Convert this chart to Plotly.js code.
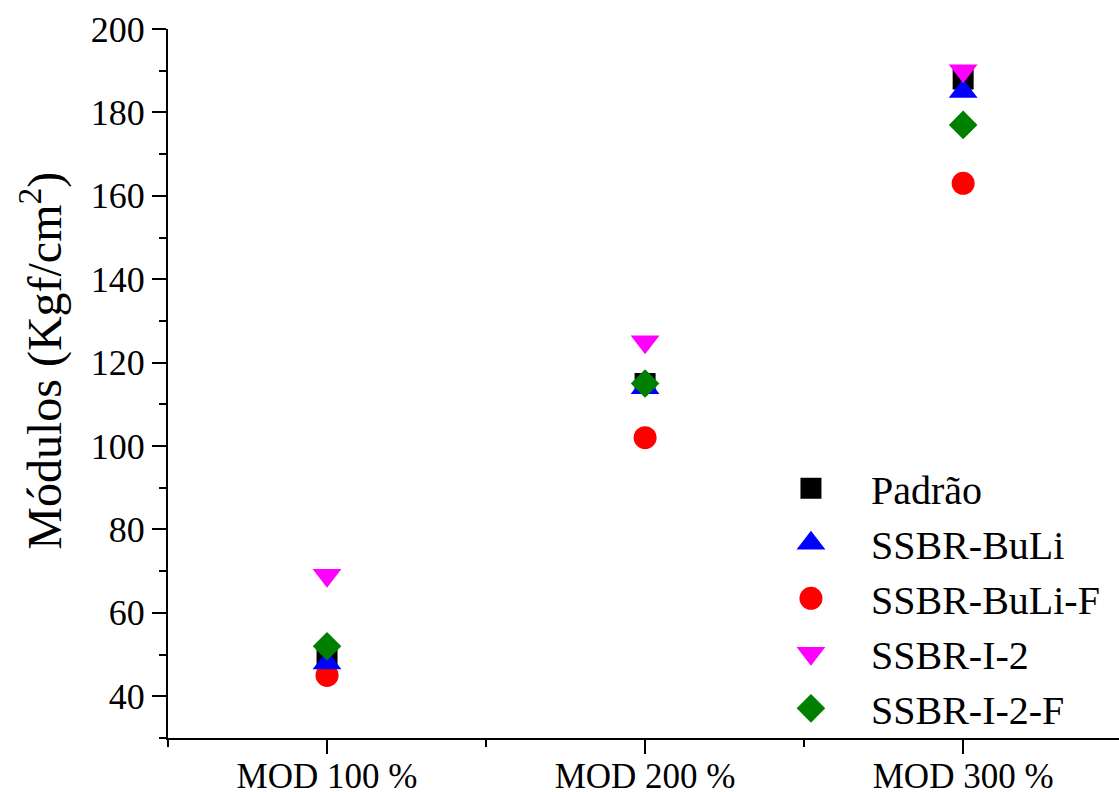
<!DOCTYPE html>
<html>
<head>
<meta charset="utf-8">
<script src="https://cdn.plot.ly/plotly-3.0.1.min.js"></script>
<style>html,body{margin:0;padding:0;background:#fff;}#chart{width:1119px;height:792px;}</style>
</head>
<body>
<div id="chart"></div>
<script>
const categories = ["MOD 100 %", "MOD 200 %", "MOD 300 %"];
const seriesNames = ["Padrão", "SSBR-BuLi", "SSBR-BuLi-F", "SSBR-I-2", "SSBR-I-2-F"];
const padrao = [49, 115, 188];
const ssbrBuLi = [48, 114, 185];
const ssbrBuLiF = [45, 102, 163];
const ssbrI2 = [69, 125, 190];
const ssbrI2F = [52, 115, 177];
const yTickVals = [40, 60, 80, 100, 120, 140, 160, 180, 200];
const yTitle = 'Módulos (Kgf/cm<sup>2</sup>)';

const xIdx = categories.map((c, i) => i);
const FONT = 'Liberation Serif, Times New Roman, serif';

const styles = [
  {symbol: 'square', color: '#000000', size: 21},
  {symbol: 'triangle-up', color: '#0000FF', size: 25},
  {symbol: 'circle', color: '#FF0000', size: 23},
  {symbol: 'triangle-down', color: '#FF00FF', size: 25},
  {symbol: 'diamond', color: '#008000', size: 22}
];
const values = [padrao, ssbrBuLi, ssbrBuLiF, ssbrI2, ssbrI2F];
const drawOrder = [0, 2, 1, 3, 4];

const traces = drawOrder.map(k => ({
  type: 'scatter',
  mode: 'markers',
  name: seriesNames[k],
  x: xIdx,
  y: values[k],
  legendrank: k + 1,
  marker: {symbol: styles[k].symbol, color: styles[k].color, size: styles[k].size, line: {width: 0}}
}));

const layout = {
  width: 1119,
  height: 792,
  margin: {l: 168, r: 0, t: 29, b: 54},
  paper_bgcolor: '#ffffff',
  plot_bgcolor: '#ffffff',
  font: {family: FONT, color: '#000000'},
  showlegend: true,
  legend: {
    x: 0.613, y: 0.197, xanchor: 'left', yanchor: 'middle',
    font: {family: FONT, size: 40, color: '#000000'},
    bgcolor: 'rgba(0,0,0,0)',
    itemwidth: 110,
    tracegroupgap: 0
  },
  annotations: [{
    text: yTitle,
    xref: 'paper', yref: 'paper',
    x: -0.1325, y: 0.532,
    xanchor: 'center', yanchor: 'middle',
    textangle: -90,
    showarrow: false,
    font: {family: FONT, size: 48, color: '#000'}
  }],
  xaxis: {
    type: 'linear',
    range: [-0.5, 2.49],
    tickmode: 'array',
    tickvals: xIdx,
    ticktext: categories,
    ticks: 'outside',
    ticklen: 14,
    tickwidth: 2,
    tickcolor: '#000',
    showline: true,
    linewidth: 2,
    linecolor: '#000',
    showgrid: false,
    zeroline: false,
    ticklabelstandoff: -8,
    tickfont: {family: FONT, size: 35, color: '#000'},
    minor: {tick0: -0.5, dtick: 1, ticks: 'outside', ticklen: 7, tickwidth: 2, tickcolor: '#000', showgrid: false}
  },
  yaxis: {
    range: [30, 200],
    tickmode: 'array',
    tickvals: yTickVals,
    ticks: 'outside',
    ticklen: 14,
    tickwidth: 2,
    tickcolor: '#000',
    showline: true,
    linewidth: 2,
    linecolor: '#000',
    showgrid: false,
    zeroline: false,
    tickfont: {family: FONT, size: 36, color: '#000'},
    minor: {tick0: 0, dtick: 10, ticks: 'outside', ticklen: 7, tickwidth: 2, tickcolor: '#000', showgrid: false}
  }
};

Plotly.newPlot('chart', traces, layout, {displayModeBar: false, staticPlot: true}).then(gd => {
  const sizeByName = {};
  seriesNames.forEach((n, k) => { sizeByName[n] = styles[k].size; });
  gd.querySelectorAll('.legend .traces').forEach(g => {
    const t = g.querySelector('.legendtext');
    if (!t) return;
    const s = sizeByName[t.textContent];
    if (!s) return;
    g.querySelectorAll('.legendpoints path').forEach(p => {
      const tr = p.getAttribute('transform') || '';
      p.setAttribute('transform', tr + ' scale(' + (s / 16).toFixed(3) + ')');
    });
  });
});
</script>
</body>
</html>
